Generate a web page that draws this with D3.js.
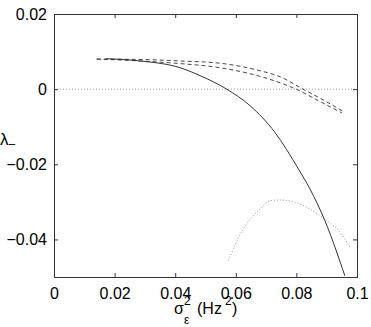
<!DOCTYPE html>
<html>
<head>
<meta charset="utf-8">
<script src="https://cdn.jsdelivr.net/npm/d3@7"></script>
<style>
  body { margin: 0; background: #fff; }
  svg { display: block; }
  text { font-family: "Liberation Sans", Arial, sans-serif; }
</style>
</head>
<body>
<div id="chart"></div>
<script>
// tick values
const xTicks = [0, 0.02, 0.04, 0.06, 0.08, 0.1];
const yTicks = [0.02, 0, -0.02, -0.04];

// solid curve
const solidX = [0.0172, 0.0284, 0.0416, 0.0482, 0.057, 0.0647, 0.0729, 0.0807, 0.0845, 0.0894, 0.0960];
const solidY = [0.0081, 0.0075, 0.0057, 0.0036, 0.0, -0.0044, -0.0115, -0.0213, -0.0266, -0.0350, -0.0497];

// dashed curves
const dashAX = [0.0141, 0.0284, 0.0416, 0.0548, 0.0680, 0.0746, 0.0822, 0.0878, 0.0954];
const dashAY = [0.0080, 0.0079, 0.0075, 0.0069, 0.0049, 0.0033, 0.0, -0.0024, -0.0059];
const dashBX = [0.0141, 0.0284, 0.0416, 0.0548, 0.0680, 0.0746, 0.0799, 0.0878, 0.0950];
const dashBY = [0.0080, 0.0075, 0.0068, 0.0057, 0.0034, 0.0017, 0.0, -0.0033, -0.0063];

// dotted curve
const dotX = [0.0575, 0.0625, 0.0680, 0.0713, 0.0746, 0.0790, 0.0845, 0.0894, 0.0944, 0.0977];
const dotY = [-0.0456, -0.0372, -0.0319, -0.0297, -0.0295, -0.0300, -0.0319, -0.0346, -0.0381, -0.0421];

const width = 371, height = 327;
const margin = { top: 14, right: 14, bottom: 50, left: 54 };

const svg = d3.select('#chart').append('svg')
  .attr('width', width)
  .attr('height', height);

const x = d3.scaleLinear().domain([0, 0.1]).range([margin.left, width - margin.right]);
const y = d3.scaleLinear().domain([-0.05, 0.02]).range([height - margin.bottom, margin.top]);

const fmt = d => d === 0 ? '0' : d3.format('.2~f')(d).replace('-', '\u2212');

// zero reference line
svg.append('line')
  .attr('x1', x(0)).attr('x2', x(0.1))
  .attr('y1', y(0)).attr('y2', y(0))
  .attr('stroke', '#999')
  .attr('stroke-width', 1)
  .attr('stroke-dasharray', '1,2');

const line = d3.line()
  .x(d => x(d[0]))
  .y(d => y(d[1]))
  .curve(d3.curveMonotoneX);

const zip = (a, b) => a.map((v, i) => [v, b[i]]);

svg.append('path')
  .attr('d', line(zip(dotX, dotY)))
  .attr('fill', 'none')
  .attr('stroke', '#999')
  .attr('stroke-width', 1)
  .attr('stroke-dasharray', '1,2');

[[dashAX, dashAY], [dashBX, dashBY]].forEach(([xs, ys]) => {
  svg.append('path')
    .attr('d', line(zip(xs, ys)))
    .attr('fill', 'none')
    .attr('stroke', '#333')
    .attr('stroke-width', 0.9)
    .attr('stroke-dasharray', '4,3');
});

svg.append('path')
  .attr('d', line(zip(solidX, solidY)))
  .attr('fill', 'none')
  .attr('stroke', '#333')
  .attr('stroke-width', 1);

// axes (ticks inside, box)
const bottomAxis = d3.axisBottom(x).tickValues(xTicks).tickSize(-4).tickPadding(10).tickFormat(fmt);
const leftAxis = d3.axisLeft(y).tickValues(yTicks).tickSize(-4).tickPadding(7).tickFormat(fmt);
const topAxis = d3.axisTop(x).tickValues(xTicks).tickSize(-4).tickFormat('');
const rightAxis = d3.axisRight(y).tickValues(yTicks).tickSize(-4).tickFormat('');

function styleAxis(g) {
  g.selectAll('.domain').attr('stroke', '#333');
  g.selectAll('.tick line').attr('stroke', '#333');
  g.selectAll('.tick text')
    .attr('fill', '#000')
    .attr('font-size', 16)
    .attr('font-family', '"Liberation Sans", Arial, sans-serif');
}

svg.append('g').attr('transform', `translate(0,${y(-0.05)})`).call(bottomAxis).call(styleAxis)
  .selectAll('.tick text').attr('dy', '0.75em');
svg.append('g').attr('transform', `translate(${x(0)},0)`).call(leftAxis).call(styleAxis);
svg.append('g').attr('transform', `translate(0,${y(0.02)})`).call(topAxis).call(styleAxis);
svg.append('g').attr('transform', `translate(${x(0.1)},0)`).call(rightAxis).call(styleAxis);

// y label: lambda with minus subscript
const yl = svg.append('text')
  .attr('x', 0)
  .attr('y', 145)
  .attr('font-size', 17)
  .attr('fill', '#000');
yl.append('tspan').text('\u03bb');
yl.append('tspan').attr('font-size', 12).attr('dy', 3).text('\u2013');

// x label: sigma_eps^2 (Hz^2)
const xl = svg.append('g').attr('font-size', 16).attr('fill', '#000');
xl.append('text').attr('x', 174).attr('y', 314).text('\u03c3');
xl.append('text').attr('x', 184).attr('y', 305).attr('font-size', 12).text('2');
xl.append('text').attr('x', 184).attr('y', 324).attr('font-size', 12).text('\u03b5');
xl.append('text').attr('x', 197).attr('y', 314).text('(Hz');
xl.append('text').attr('x', 225).attr('y', 305).attr('font-size', 12).text('2');
xl.append('text').attr('x', 232).attr('y', 314).text(')');
</script>
</body>
</html>
